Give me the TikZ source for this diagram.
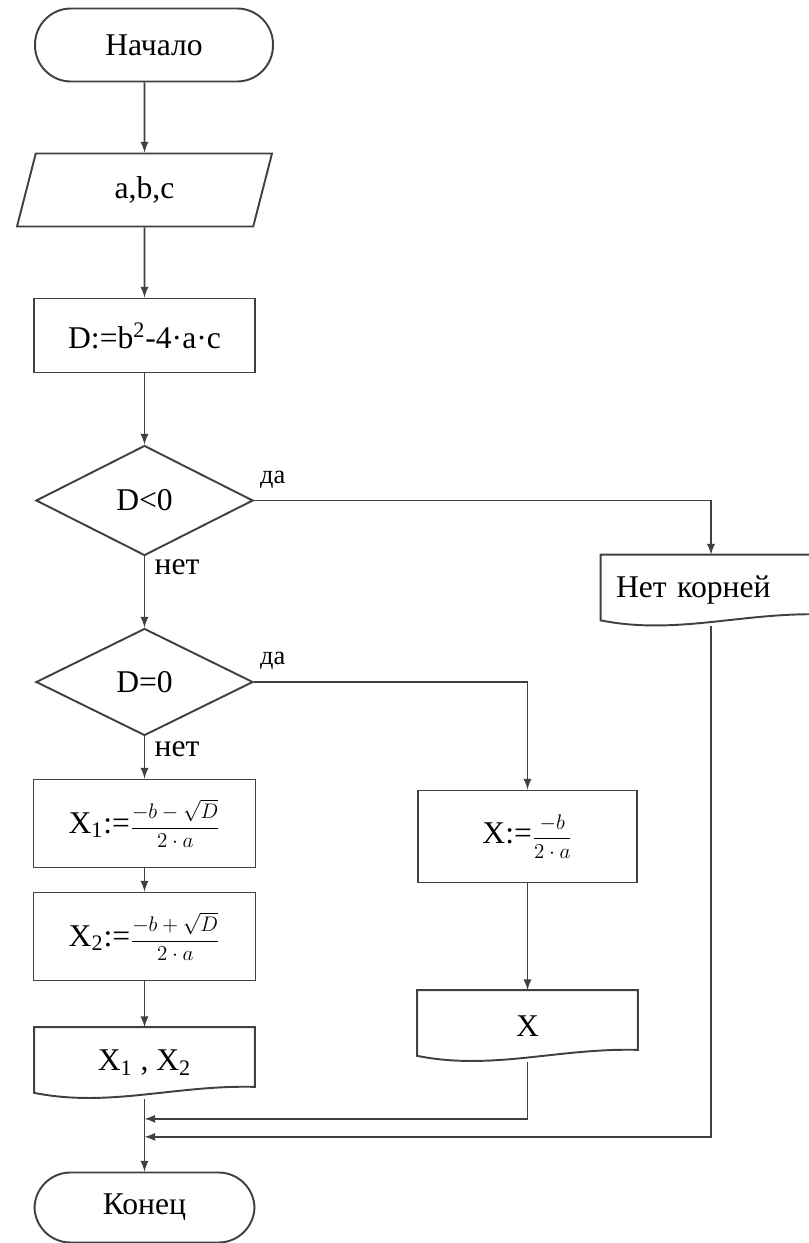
\documentclass[tikz,border=0pt]{standalone}
\usepackage{fontspec}
\setmainfont{Liberation Serif}
\usetikzlibrary{shapes.geometric, arrows}
\tikzstyle{startstop} = [rectangle, rounded corners=0.72cm, minimum width=4.76cm, minimum height=1.46cm, text centered, draw=black!75, line width=1.1pt]
\tikzstyle{io} = [trapezium, trapezium left angle=55, trapezium right angle=125, trapezium stretches body, minimum width=5.1cm, minimum height=1.46cm, inner sep=0pt, text centered, draw=black!75, line width=1.1pt]
\tikzstyle{process} = [rectangle, minimum width=4.42cm, minimum height=1.48cm, text centered, draw=black!75, line width=1.1pt]
\tikzstyle{decision} = [diamond, aspect=2, minimum width=4.34cm, minimum height=2.2cm, inner sep=0pt, text centered, draw=black!75, line width=1.1pt]
\tikzstyle{output} = [rectangle, minimum width=4.4cm, minimum height=1.42cm, text centered]
\tikzstyle{lbl} = [font=\fontsize{15}{17}\selectfont]
\tikzstyle{line} = [line width=1.1pt, draw=black!75]
\tikzstyle{arrow} = [line width=1.1pt, draw=black!75, ->, >=latex]
\newcommand{\docshape}[1]{%
  \draw [line] (#1.north west) -- (#1.north east) -- ([yshift=0.24cm]#1.south east)
    .. controls +(-1.6,0.04) and +(1.5,-0.3) .. ([yshift=0.12cm]#1.south west) -- cycle;}
\newcommand{\smallfrac}[2]{{\fontsize{12.6}{14}\selectfont$\displaystyle\frac{#1}{#2}$}}

\begin{document}
\begin{tikzpicture}[node distance=2.9cm, font=\fontsize{18}{21}\selectfont]
\useasboundingbox (0,0) rectangle (16.16,-24.86);

\node (start) [startstop] at (3.08,-0.9) {Начало};
\node (in) [io, below of=start, xshift=-0.19cm] {a,b,c};
\node (calc) [process, below of=in, node distance=2.91cm] {D:=b\textsuperscript{2}-4·a·c};
\node (dec1) [decision, below of=calc, node distance=3.3cm] {D<0};
\node (dec2) [decision, below of=dec1, node distance=3.63cm, minimum height=2.14cm] {D=0};
\node (root1) [process, below of=dec2, node distance=2.83cm, minimum width=4.44cm, minimum height=1.76cm] {X\textsubscript{1}:=\smallfrac{-b-\sqrt{D}}{2\cdot a}};
\node (root2) [process, below of=root1, node distance=2.26cm, minimum width=4.44cm, minimum height=1.76cm] {X\textsubscript{2}:=\smallfrac{-b+\sqrt{D}}{2\cdot a}};
\node (out2) [output, below of=root2, node distance=2.53cm] {X\textsubscript{1} , X\textsubscript{2}};
\node (stop) [startstop, below of=out2, node distance=2.89cm, minimum width=4.4cm, minimum height=1.4cm] {Конец};

\node (root) [process, right of=root1, node distance=7.66cm, yshift=-0.26cm, minimum width=4.38cm, minimum height=1.84cm] {X:=\smallfrac{-b}{2\cdot a}};
\node (out1) [output, below of=root, node distance=3.79cm] {X};
\node (none) [output, right of=dec1, node distance=11.33cm, yshift=-1.8cm, text width=3.8cm, align=left] {Нет корней};

\docshape{out2}
\docshape{out1}
\docshape{none}

\node (yes1) [lbl, right] at ([yshift=0.42cm]dec1.east) {да};
\node (no1) [right] at ([xshift=0.08cm, yshift=-0.22cm]dec1.south) {нет};
\node (yes2) [lbl, right] at ([yshift=0.42cm]dec2.east) {да};
\node (no2) [right] at ([xshift=0.08cm, yshift=-0.26cm]dec2.south) {нет};

\draw [arrow] (start.south -| in) -- (in);
\draw [arrow] (in) -- (calc);
\draw [arrow] (calc) -- (dec1);
\draw [arrow] (dec1) -- (dec2);
\draw [arrow] (dec2) -- (root1);
\draw [arrow] (root1) -- (root2);
\draw [arrow] (root2) -- (out2);
\draw [arrow] (out2) -- (stop);
\draw [arrow] (dec1.east) -| (none.north);
\draw [arrow] (dec2.east) -| (root.north);
\draw [arrow] (root) -- (out1);

\coordinate (m1) at ([yshift=-0.4cm]out2.south);
\coordinate (m2) at ([yshift=-0.76cm]out2.south);
\draw [arrow] (out1.south) |- (m1);
\draw [arrow] (none.south) |- (m2);
\end{tikzpicture}
\end{document}
